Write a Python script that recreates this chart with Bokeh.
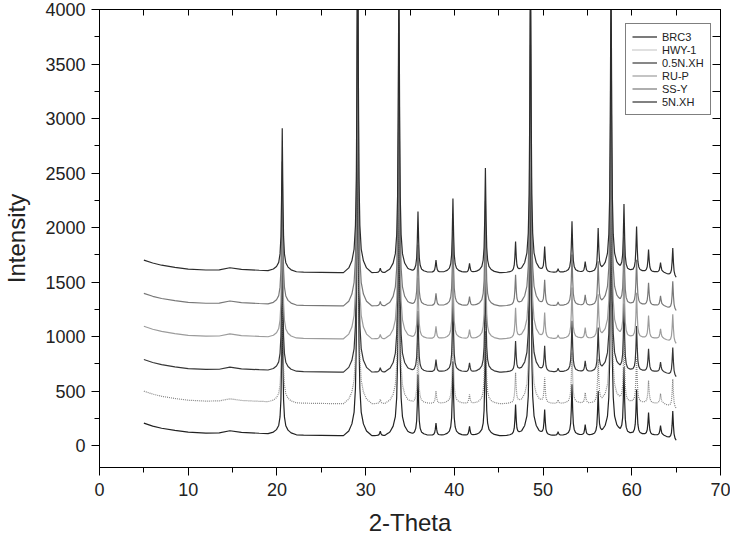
import numpy as np
from bokeh.plotting import figure
from bokeh.models import (LinearAxis, SingleIntervalTicker, Legend, LegendItem,
                          Range1d, ColumnDataSource)
from bokeh.embed import file_html
from bokeh.resources import INLINE

# ---- data ----
series_names = ["BRC3", "HWY-1", "0.5N.XH", "RU-P", "SS-Y", "5N.XH"]
series_base = [92, 385, 675, 980, 1282, 1587]          # baseline level of each pattern
series_colors = ["#222222", "#858585", "#363636", "#9c9c9c", "#787878", "#2c2c2c"]
series_dash = ["solid", "1 1", "solid", "solid", "solid", "solid"]

two_theta_start = 5.0
two_theta_end = 65.0

# background (relative to baseline)
bg_x = [5, 6, 7, 8.5, 10, 12, 13.5, 14.7, 16, 18, 20, 23, 27, 40, 63.5, 65]
bg_y = [115, 88, 68, 48, 32, 24, 26, 45, 30, 22, 16, 5, 0, 0, 0, -60]

# reflections: position (2-theta) and height above baseline
peak_pos = [20.6, 29.1, 31.65, 33.75, 35.9, 37.93, 39.84, 41.71, 43.5, 46.9,
            48.58, 50.18, 51.69, 53.26, 54.75, 56.21, 57.66, 59.12, 60.54,
            61.89, 63.24, 64.62]
peak_height = [1310, 3600, 40, 2900, 560, 115, 680, 85, 960, 285,
               3000, 240, 35, 470, 100, 400, 2900, 620, 420,
               210, 90, 270]

# peak line-shape outline (distance from centre in degrees, fraction of height)
prof_d = [0, 0.08, 0.15, 0.25, 0.4, 0.65, 1.0, 1.6]
prof_f = [1, 0.5, 0.24, 0.12, 0.06, 0.03, 0.012, 0]

# ---- build the traces ----
pd_ = np.array(prof_d)
pf_ = np.array(prof_f)
sym_d = np.concatenate([-pd_[::-1], pd_[1:]])
sym_f = np.concatenate([pf_[::-1], pf_[1:]])

grid = set(bg_x) | {two_theta_start, two_theta_end}
for pk in peak_pos:
    for d in sym_d:
        grid.add(round(pk + d, 4))
xs = np.array(sorted(v for v in grid if two_theta_start <= v <= two_theta_end))

shape = np.interp(xs, bg_x, bg_y)
for pk, h in zip(peak_pos, peak_height):
    shape = shape + np.interp(xs, pk + sym_d, h * sym_f, left=0, right=0)

FONT = "Liberation Sans"

p = figure(width=730, height=538, x_range=Range1d(0, 70), y_range=Range1d(-200, 4000),
           output_backend="svg", toolbar_location=None,
           min_border_left=96, min_border_right=10, min_border_top=9, min_border_bottom=71)
p.grid.visible = False
p.outline_line_color = "black"
p.outline_line_width = 1
p.background_fill_color = "white"
p.border_fill_color = "white"

renderers = []
for name, base, col, dash in zip(series_names, series_base, series_colors, series_dash):
    src = ColumnDataSource(dict(x=xs, y=shape + base))
    r = p.line("x", "y", source=src, line_color=col, line_width=1.2, line_dash=dash)
    renderers.append(r)

xa = p.xaxis[0]
xa.ticker = SingleIntervalTicker(interval=10, num_minor_ticks=2)
ya = p.yaxis[0]
ya.ticker = SingleIntervalTicker(interval=500, num_minor_ticks=2)
for ax in (xa, ya):
    ax.axis_line_color = "black"
    ax.major_tick_line_color = "black"
    ax.minor_tick_line_color = "black"
    ax.major_tick_out = 8
    ax.major_tick_in = 0
    ax.minor_tick_out = 5
    ax.minor_tick_in = 0
    ax.major_label_text_font = FONT
    ax.major_label_text_font_size = "18px"
    ax.major_label_text_color = "#222222"
    ax.axis_label_text_font = FONT
    ax.axis_label_text_font_size = "24px"
    ax.axis_label_text_font_style = "normal"
    ax.axis_label_text_color = "#222222"
xa.axis_label = "2-Theta"
ya.axis_label = "Intensity"
xa.major_label_standoff = 7
ya.major_label_standoff = 6
xa.axis_label_standoff = 10
ya.axis_label_standoff = 12

top = LinearAxis(ticker=SingleIntervalTicker(interval=5, num_minor_ticks=0),
                 major_tick_in=6, major_tick_out=0, minor_tick_in=0, minor_tick_out=0,
                 major_label_text_font_size="0px", major_label_text_color=None,
                 major_label_standoff=0,
                 axis_line_color="black", major_tick_line_color="black")
right = LinearAxis(ticker=SingleIntervalTicker(interval=250, num_minor_ticks=0),
                   major_tick_in=8, major_tick_out=0, minor_tick_in=0, minor_tick_out=0,
                   major_label_text_font_size="0px", major_label_text_color=None,
                   major_label_standoff=0,
                   axis_line_color="black", major_tick_line_color="black")
p.add_layout(top, "above")
p.add_layout(right, "right")

legend = Legend(items=[LegendItem(label=n, renderers=[r]) for n, r in zip(series_names, renderers)],
                location=(526, 352))
legend.border_line_color = "black"
legend.border_line_width = 1
legend.background_fill_color = "white"
legend.background_fill_alpha = 1
legend.label_text_font = FONT
legend.label_text_font_size = "11px"
legend.label_text_color = "#222222"
legend.glyph_width = 25
legend.glyph_height = 13
legend.label_height = 13
legend.label_standoff = 5
legend.spacing = 0
legend.padding = 6
legend.margin = 0
p.add_layout(legend)

open("out.html", "w").write(file_html(p, INLINE))
